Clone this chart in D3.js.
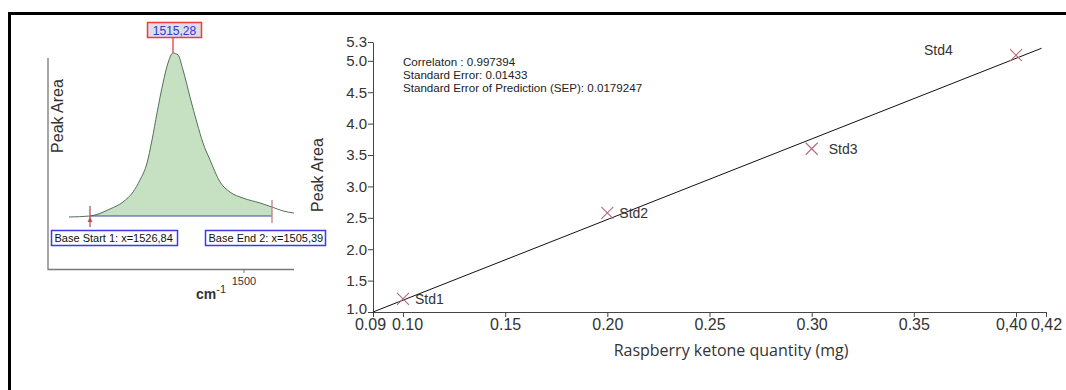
<!DOCTYPE html>
<html>
<head>
<meta charset="utf-8">
<title>Raspberry ketone calibration</title>
<script src="https://cdn.jsdelivr.net/npm/d3@7"></script>
<style>
  body { margin: 0; background: #fff; }
  svg { display: block; font-family: 'Liberation Sans', Arial, sans-serif; }
</style>
</head>
<body>
<div id="chart"></div>
<script>
// Peak inset (spectrum), wavenumber in cm-1 and relative absorbance
const spectrumWavenumber = [1535, 1530.8, 1526.8, 1524.2, 1522.2, 1520.8, 1519.4, 1518.4, 1517.4, 1516.2, 1515.2, 1514.2,
  1513.2, 1512.2, 1510.8, 1509.4, 1508.2, 1506.8, 1504.8, 1502.8, 1500.2, 1496.8, 1494.4, 1492.2, 1490];
const spectrumAbsorbance = [-0.006, 0, 0.043, 0.086, 0.147, 0.221, 0.325, 0.466, 0.632, 0.816, 0.939, 1.0,
  0.988, 0.896, 0.73, 0.571, 0.448, 0.344, 0.209, 0.147, 0.11, 0.08, 0.055, 0.031, 0.018];
const baseStartWn = 1530.8;
const baseEndWn = 1494.4;
const peakWn = 1514.2;
const spectrumTicks = [1500];
const peakLabel = '1515,28';
const baseStartLabel = 'Base Start 1: x=1526,84';
const baseEndLabel = 'Base End 2: x=1505,39';

// Calibration
const standardNames = ['Std1', 'Std2', 'Std3', 'Std4'];
const quantities = [0.10, 0.20, 0.30, 0.40];
const peakAreas = [1.21, 2.58, 3.60, 5.09];
const fitX = [0.09, 0.417];
const fitY = [1.0, 5.2];
const xTicks = [0.09, 0.10, 0.15, 0.20, 0.25, 0.30, 0.35, 0.40, 0.42];
const xTickLabels = ['0.09', '0.10', '0.15', '0.20', '0.25', '0.30', '0.35', '0,40', '0,42'];
const yTicks = [1.0, 1.5, 2.0, 2.5, 3.0, 3.5, 4.0, 4.5, 5.0, 5.3];
const statLines = [
  'Correlaton : 0.997394',
  'Standard Error: 0.01433',
  'Standard Error of Prediction (SEP): 0.0179247',
];

const W = 1066, H = 390;
const svg = d3.select('#chart').append('svg').attr('width', W).attr('height', H);

// outer frame (top + left edges visible)
svg.append('path')
  .attr('d', `M9.5,${H} V13.5 H${W}`)
  .attr('fill', 'none')
  .attr('stroke', '#000')
  .attr('stroke-width', 3);

// ---------- spectrum inset ----------
const sx = d3.scaleLinear().domain([1535, 1490]).range([69, 294]);
const sy = d3.scaleLinear().domain([0, 1]).range([216, 53]);
const spec = spectrumWavenumber.map((w, i) => ({ w, a: spectrumAbsorbance[i] }));

// axes of inset
svg.append('path')
  .attr('d', 'M48,58 V269.5 H294')
  .attr('fill', 'none')
  .attr('stroke', '#777')
  .attr('stroke-width', 1.3);

spectrumTicks.forEach((t) => {
  svg.append('line')
    .attr('x1', sx(t)).attr('x2', sx(t))
    .attr('y1', 269.5).attr('y2', 273)
    .attr('stroke', '#777');
  svg.append('text')
    .attr('x', sx(t)).attr('y', 285)
    .attr('text-anchor', 'middle')
    .attr('font-size', 11)
    .attr('fill', '#333')
    .text(t);
});

const unit = svg.append('text')
  .attr('x', 196).attr('y', 299)
  .attr('font-size', 14)
  .attr('font-weight', 'bold')
  .attr('fill', '#333');
unit.append('tspan').text('cm');
unit.append('tspan').attr('dy', -6).attr('font-size', 11).attr('font-weight', 'normal').text('-1');

svg.append('text')
  .attr('transform', 'translate(63,116) rotate(-90)')
  .attr('text-anchor', 'middle')
  .attr('font-size', 16)
  .attr('fill', '#333')
  .text('Peak Area');

// filled peak area between baseline markers
const inBase = spec.filter((d) => d.w <= baseStartWn && d.w >= baseEndWn);
svg.append('path')
  .datum(inBase)
  .attr('d', d3.area()
    .x((d) => sx(d.w))
    .y0(sy(0))
    .y1((d) => sy(d.a))
    .curve(d3.curveMonotoneX))
  .attr('fill', '#c5e1c1');

svg.append('path')
  .datum(spec)
  .attr('d', d3.line()
    .x((d) => sx(d.w))
    .y((d) => sy(d.a))
    .curve(d3.curveMonotoneX))
  .attr('fill', 'none')
  .attr('stroke', '#56705a')
  .attr('stroke-width', 1);

// baseline
svg.append('line')
  .attr('x1', sx(baseStartWn)).attr('x2', sx(baseEndWn))
  .attr('y1', sy(0)).attr('y2', sy(0))
  .attr('stroke', '#3b4bb0')
  .attr('stroke-width', 1.2);

// base markers
svg.append('line')
  .attr('x1', sx(baseStartWn)).attr('x2', sx(baseStartWn))
  .attr('y1', sy(0) - 10).attr('y2', sy(0) + 11)
  .attr('stroke', '#b5525a').attr('stroke-width', 1.3);
svg.append('path')
  .attr('d', `M${sx(baseStartWn) - 2.5},${sy(0) + 6} L${sx(baseStartWn)},${sy(0) + 1} L${sx(baseStartWn) + 2.5},${sy(0) + 6} Z`)
  .attr('fill', '#b5525a');
svg.append('line')
  .attr('x1', sx(baseEndWn)).attr('x2', sx(baseEndWn))
  .attr('y1', sy(0) - 16).attr('y2', sy(0) + 7)
  .attr('stroke', '#c08080').attr('stroke-width', 1.3);

// peak label
svg.append('line')
  .attr('x1', sx(peakWn)).attr('x2', sx(peakWn))
  .attr('y1', 38).attr('y2', sy(1))
  .attr('stroke', '#f05555').attr('stroke-width', 1.5);
svg.append('rect')
  .attr('x', 147.5).attr('y', 22.5).attr('width', 54).attr('height', 15)
  .attr('fill', '#dcdde6')
  .attr('stroke', '#ee3b3b').attr('stroke-width', 1.5);
svg.append('text')
  .attr('x', 174.5).attr('y', 34.5)
  .attr('text-anchor', 'middle')
  .attr('font-size', 12)
  .attr('fill', '#3434d8')
  .text(peakLabel);

[[51.5, baseStartLabel, 126], [205.5, baseEndLabel, 120]].forEach(([x, label, w]) => {
  svg.append('rect')
    .attr('x', x).attr('y', 230.5).attr('width', w).attr('height', 15)
    .attr('fill', '#fff')
    .attr('stroke', '#3a3af0').attr('stroke-width', 1.5);
  svg.append('text')
    .attr('x', x + 3).attr('y', 242)
    .attr('font-size', 11)
    .attr('fill', '#111')
    .text(label);
});

// ---------- calibration chart ----------
// the end ticks (0.09, 0.42) sit squeezed at the axis ends, as in the source figure
const x = d3.scaleLinear().domain([0.09, 0.10, 0.40, 0.42]).range([373, 403, 1016, 1046]);
const y = d3.scaleLinear().domain([1.0, 5.3]).range([312, 42]);

const xAxis = svg.append('g')
  .attr('transform', `translate(0,${y(1.0)})`)
  .call(d3.axisBottom(x)
    .tickValues(xTicks)
    .tickFormat((d, i) => xTickLabels[i])
    .tickSize(5)
    .tickPadding(2)
    .tickSizeOuter(0));
xAxis.selectAll('text')
  .attr('font-size', 16)
  .attr('fill', '#333')
  .attr('font-family', "'Liberation Sans', Arial, sans-serif")
  .attr('dx', (d, i) => (i === 0 ? -3 : i === 1 ? 4 : i === 7 ? -5 : 0));

const yAxis = svg.append('g')
  .attr('transform', `translate(${x(0.09)},0)`)
  .call(d3.axisLeft(y)
    .tickValues(yTicks)
    .tickFormat(d3.format('.1f'))
    .tickSize(5)
    .tickPadding(1)
    .tickSizeOuter(0));
yAxis.selectAll('text')
  .attr('font-size', 15)
  .attr('fill', '#333')
  .attr('font-family', "'Liberation Sans', Arial, sans-serif")
  .attr('dy', (d) => (d === 1.0 ? '0.1em' : '0.32em'));

[xAxis, yAxis].forEach((g) => {
  g.select('.domain').attr('stroke', '#444');
  g.selectAll('.tick line').attr('stroke', '#444');
});

svg.append('text')
  .attr('x', 731).attr('y', 356)
  .attr('text-anchor', 'middle')
  .attr('font-family', "'Open Sans', sans-serif")
  .attr('font-size', 16)
  .attr('fill', '#333')
  .text('Raspberry ketone quantity (mg)');

svg.append('text')
  .attr('transform', 'translate(323,175) rotate(-90)')
  .attr('text-anchor', 'middle')
  .attr('font-size', 16)
  .attr('fill', '#333')
  .text('Peak Area');

// stats text
svg.append('g')
  .selectAll('text')
  .data(statLines)
  .join('text')
  .attr('x', 403)
  .attr('y', (d, i) => 66 + i * 13)
  .attr('font-size', 11.6)
  .attr('fill', '#222')
  .text((d) => d);

// regression line
svg.append('line')
  .attr('x1', x(fitX[0])).attr('y1', y(fitY[0]))
  .attr('x2', x(fitX[1])).attr('y2', y(fitY[1]))
  .attr('stroke', '#111')
  .attr('stroke-width', 1);

// standards
const stds = standardNames.map((name, i) => ({ name, q: quantities[i], a: peakAreas[i] }));
const r = 6;
const mark = svg.append('g')
  .selectAll('g')
  .data(stds)
  .join('g')
  .attr('transform', (d) => `translate(${x(d.q)},${y(d.a)})`);

mark.append('path')
  .attr('d', `M${-r},${-r} L${r},${r} M${-r},${r} L${r},${-r}`)
  .attr('stroke', '#b36a78')
  .attr('stroke-width', 1.1)
  .attr('fill', 'none');

// label placement relative to the marker
const labelOffset = (d, i) => (i === 3 ? [-92, 0] : i === 2 ? [17, 5] : [12, 5]);
mark.append('text')
  .attr('x', (d, i) => labelOffset(d, i)[0])
  .attr('y', (d, i) => labelOffset(d, i)[1])
  .attr('font-size', 14)
  .attr('fill', '#333')
  .text((d) => d.name);
</script>
</body>
</html>
